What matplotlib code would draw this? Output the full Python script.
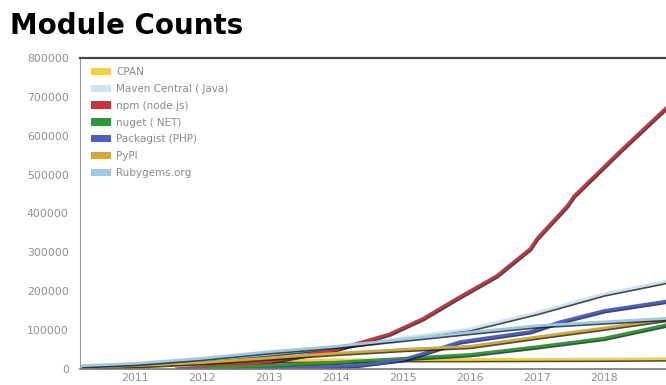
import matplotlib
matplotlib.use('Agg')
import matplotlib.pyplot as plt
import matplotlib.patheffects as pe
from matplotlib.patches import Patch

# values (decimal year, module count)
cpan_x = [2011.5, 2012.0, 2013.0, 2014.0, 2015.0, 2016.0, 2017.0, 2018.0, 2018.95]
cpan_y = [15000, 18000, 21000, 23000, 24000, 24000, 24500, 25000, 26000]

maven_x = [2010.2, 2011.0, 2012.0, 2013.0, 2014.0, 2015.0, 2016.0, 2017.0, 2018.0, 2018.95]
maven_y = [3000, 10000, 22000, 38000, 55000, 80000, 103000, 145000, 193000, 226000]

npm_x = [2011.6, 2012.0, 2013.0, 2014.0, 2014.8, 2015.3, 2015.8, 2016.4, 2016.9, 2017.0,
         2017.45, 2017.55, 2018.24, 2018.95]
npm_y = [0, 5000, 18000, 50000, 90000, 130000, 181000, 240000, 310000, 336000,
         420000, 445000, 561000, 676000]

nuget_x = [2011.7, 2012.0, 2013.0, 2014.0, 2015.0, 2016.0, 2017.0, 2018.0, 2018.95]
nuget_y = [0, 2000, 9000, 17000, 27000, 37000, 57000, 79000, 114000]

packagist_x = [2012.6, 2013.5, 2014.3, 2015.0, 2015.4, 2015.85, 2016.9, 2017.34, 2018.0, 2018.95]
packagist_y = [0, 3000, 9000, 24000, 45000, 70000, 96000, 121000, 150000, 175000]

pypi_x = [2010.2, 2011.0, 2012.0, 2013.0, 2014.0, 2015.0, 2016.0, 2017.0, 2018.0, 2018.95]
pypi_y = [3000, 8000, 16000, 28000, 40000, 50000, 58000, 82000, 105000, 128000]

rubygems_x = [2010.2, 2011.0, 2012.0, 2013.0, 2014.0, 2015.0, 2016.0, 2017.0, 2018.0, 2018.95]
rubygems_y = [8000, 14000, 27000, 44000, 58000, 76000, 94000, 111000, 121000, 130000]

names = ['CPAN', 'Maven Central ( Java)', 'npm (node.js)', 'nuget ( NET)',
         'Packagist (PHP)', 'PyPI', 'Rubygems.org']
colors = ['#f3d03e', '#cfe3ef', '#c0393f', '#2c9a36', '#4d5fc4', '#cfa93a', '#9cc9e6']
series = [(cpan_x, cpan_y), (maven_x, maven_y), (npm_x, npm_y), (nuget_x, nuget_y),
          (packagist_x, packagist_y), (pypi_x, pypi_y), (rubygems_x, rubygems_y)]

yticks = [0, 100000, 200000, 300000, 400000, 500000, 600000, 700000, 800000]
years = [2011, 2012, 2013, 2014, 2015, 2016, 2017, 2018]

fig = plt.figure(figsize=(6.66, 3.85), dpi=100)
ax = fig.add_axes([0.120, 0.042, 0.90, 0.807])

shadow = [pe.SimpleLineShadow(offset=(0.6, -1.1), shadow_color='#1a1a1a', alpha=0.8),
          pe.Normal()]
for (xs, ys), c in zip(series, colors):
    ax.plot(xs, ys, color=c, lw=2.0, path_effects=shadow, solid_capstyle='butt')

ax.set_xlim(2010.18, 2019.125)
ax.set_ylim(0, 800000)
ax.set_yticks(yticks)
ax.set_yticklabels([str(v) for v in yticks])
ax.set_xticks(years)
ax.set_xticklabels([str(y) for y in years])
ax.tick_params(axis='both', length=0, labelsize=7.8, labelcolor='#8f8f8f')
ax.tick_params(axis='y', pad=8)
ax.tick_params(axis='x', pad=3)

ax.spines['right'].set_visible(False)
ax.spines['top'].set_color('#444444')
ax.spines['top'].set_linewidth(1.6)
ax.spines['left'].set_color('#999999')
ax.spines['bottom'].set_color('#777777')
ax.spines['bottom'].set_linewidth(1.2)

handles = [Patch(facecolor=c, edgecolor='none') for c in colors]
leg = ax.legend(handles, names, loc='upper left', frameon=False, fontsize=7.5,
                handlelength=1.9, handleheight=0.7, handletextpad=0.5,
                labelspacing=0.66, borderaxespad=0.0, bbox_to_anchor=(0.012, 0.985))
for t in leg.get_texts():
    t.set_color('#8a8a8a')

fig.text(0.015, 0.932, 'Module Counts', fontsize=20, fontweight='bold',
         family='DejaVu Sans', va='center', ha='left')

fig.savefig('out.png', dpi=100)
